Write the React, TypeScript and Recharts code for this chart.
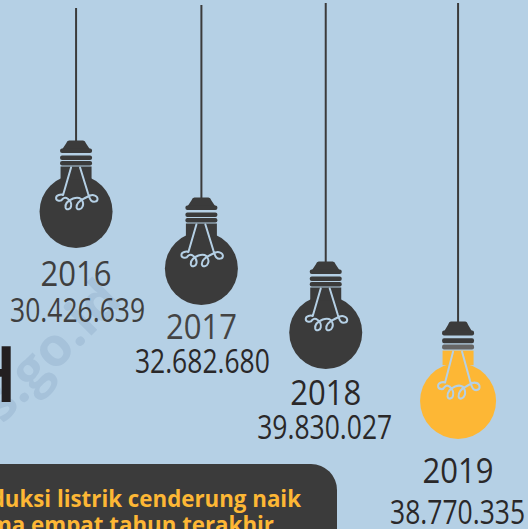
import { Bar, BarChart, XAxis, YAxis } from "recharts";

const years = ["2016", "2017", "2018", "2019"];
const production = ["30.426.639", "32.682.680", "39.830.027", "38.770.335"];
// how far each bulb hangs in the picture, read top to bottom
const cordTop = [8, 5, 3, 3];
const hangDepth = [248, 305, 369, 439];

const data = years.map((year, i) => ({
  year,
  production: production[i],
  hang: [cordTop[i], hangDepth[i]],
}));

// the bulbs are hand placed, not quite on an even step
const slotNudge = [0, -2, -5, 0];
const yearGap = [38, 34, 36, 44];
const valueGap = [74, 68, 70, 85];
const valueShift = [1.5, 1, -1, -0.5];
const yearColor = ["#3f3f3f", "#444444", "#2a2829", "#2a2829"];
const valueColor = ["#3f3f3f", "#2a2829", "#2a2829", "#2a2829"];

const DARK = "#3b3b3b";
const SKY = "#b5d0e5";
const AMBER = "#fdb735";
const FONT = "'Open Sans', sans-serif";

function BulbShape(props: any) {
  const { x, y, width, height, index } = props;
  const cx = x + width / 2 + slotNudge[index];
  const top = Math.min(y, y + height);
  const bottom = Math.max(y, y + height);
  const lit = index === years.length - 1;
  const r = lit ? 38 : 36.5;
  const cy = bottom - r;
  const stretch = lit ? 1.12 : 1;
  const bands = [-63, -56, -50.5];
  return (
    <g>
      <line x1={cx} x2={cx} y1={top} y2={cy - 70 * stretch} stroke={DARK} strokeWidth={2} />
      <g transform={`translate(${cx},${cy})`}>
        <circle r={r} fill={lit ? AMBER : DARK} />
        <g transform={`scale(1,${stretch})`}>
          <rect x={-15.5} y={-45} width={31} height={13} fill={lit ? AMBER : DARK} />
          <path d="M-7,-71 L7,-71 Q9,-71 10,-68 L14,-62 L-14,-62 L-10,-68 Q-9,-71 -7,-71 Z" fill={DARK} />
          {bands.map((b, i) => (
            <rect
              key={i}
              x={-16}
              y={b}
              width={32}
              height={4.5}
              rx={2}
              fill={lit && i === 2 ? "#666666" : DARK}
            />
          ))}
          <path
            d="M-5,-44 L-13,-16.5 C-15,-17.5 -20,-16.5 -20,-13.5 C-20,-10.5 -15,-9.5 -13.5,-12.5 C-12,-14 -10,-14 -8,-12.5 C-5,-10 -4.5,-7 -5,-5 C-5.5,-2 -10,-1 -10.5,-4 C-11,-7.5 -8,-11 -3,-13 C0,-14 3,-14 5,-12.5 C7,-10 7.5,-7 6.5,-5 C5.5,-2 1,-1 0.5,-4 C0,-7 3,-11 8,-13 C10,-14 12,-15 14,-16 C17,-17 21.5,-16 21.5,-12.5 C21.5,-9.5 17,-9 15,-11 C13.5,-12.5 13,-15 12,-18 L4,-44"
            fill="none"
            stroke={SKY}
            strokeWidth={2}
            strokeLinecap="round"
            strokeLinejoin="round"
          />
        </g>
      </g>
      <text
        x={cx}
        y={bottom + yearGap[index]}
        textAnchor="middle"
        fontFamily={FONT}
        fontSize={34}
        textLength={71}
        lengthAdjust="spacingAndGlyphs"
        fill={yearColor[index]}
      >
        {years[index]}
      </text>
      <text
        x={cx + valueShift[index]}
        y={bottom + valueGap[index]}
        textAnchor="middle"
        fontFamily={FONT}
        fontSize={32}
        textLength={135}
        lengthAdjust="spacingAndGlyphs"
        fill={valueColor[index]}
      >
        {production[index]}
      </text>
    </g>
  );
}

export default function App() {
  return (
    <div style={{ position: "fixed", left: 0, top: 0, width: 528, height: 529, background: SKY, overflow: "hidden" }}>
      <BarChart
        width={528}
        height={529}
        data={data}
        margin={{ top: 0, right: 6.33, bottom: 0, left: 12.33 }}
      >
        <XAxis dataKey="year" hide />
        <YAxis hide reversed domain={[0, 529]} />
        <text
          transform="translate(22,395) rotate(-45)"
          x={-103}
          y={7}
          fontFamily={FONT}
          fontWeight={700}
          fontSize={54}
          fill="#a6c2da"
        >
          bps.go.id
        </text>
        <text x={18} y={402} textAnchor="end" fontFamily={FONT} fontWeight={600} fontSize={78} fill="#231f20">
          H
        </text>
        <rect x={-30} y={464} width={367} height={90} rx={26} fill={DARK} />
        <text x={301} y={507} textAnchor="end" fontFamily={FONT} fontWeight={700} fontSize={22.3} fill={AMBER}>
          Produksi listrik cenderung naik
        </text>
        <text x={274} y={533} textAnchor="end" fontFamily={FONT} fontWeight={700} fontSize={22.3} fill={AMBER}>
          selama empat tahun terakhir
        </text>
        <Bar dataKey="hang" shape={BulbShape} isAnimationActive={false} />
      </BarChart>
    </div>
  );
}
